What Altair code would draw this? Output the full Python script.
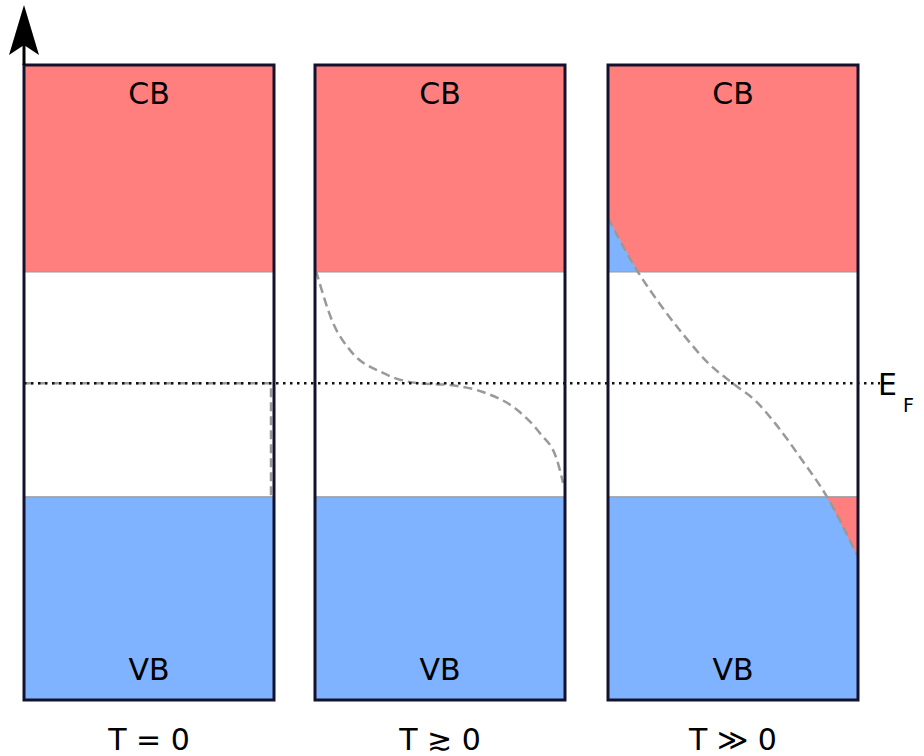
import altair as alt
import pandas as pd

# ---------------- data ----------------
panel_labels = ["T = 0", "T \u2273 0", "T \u226b 0"]
panel_offsets = [0.0, 1.164, 2.336]
panel_width = 1.0
E_top, E_bottom = 1.0, 0.0
E_c = 0.674   # conduction band edge
E_v = 0.320   # valence band edge
E_F = 0.499   # Fermi level

# occupancy curves (x = fraction across panel, E = energy)
step_u = [0.0, 0.988, 0.988]
step_E = [E_F, E_F, E_v]
curve2_u = [0.004, 0.072, 0.14, 0.272, 0.408, 0.54, 0.672, 0.808, 0.9, 0.968, 0.992]
curve2_E = [0.676, 0.594, 0.551, 0.515, 0.499, 0.496, 0.485, 0.457, 0.420, 0.378, 0.342]
curve3_u = [0.0, 0.12, 0.216, 0.296, 0.4, 0.508, 0.588, 0.668, 0.776, 0.876, 1.0]
curve3_E = [0.759, 0.674, 0.619, 0.578, 0.531, 0.496, 0.472, 0.436, 0.378, 0.320, 0.225]

RED = "#ff7f7f"
BLUE = "#80b3ff"
BORDER = "#12122e"
GREY = "#999999"

xs = alt.Scale(domain=[-0.096, 3.6], nice=False, zero=False)
ys = alt.Scale(domain=[-0.0882, 1.1024], nice=False, zero=False)

def X(f):
    return alt.X(f"{f}:Q", scale=xs, axis=None)

def Y(f):
    return alt.Y(f"{f}:Q", scale=ys, axis=None)

# ---------------- tables ----------------
bands = []
for lab, off in zip(panel_labels, panel_offsets):
    bands.append({"panel": lab, "band": "CB", "x": off, "x2": off + panel_width, "y": E_c, "y2": E_top,
                  "ly": 0.9386, "xc": off + panel_width / 2})
    bands.append({"panel": lab, "band": "VB", "x": off, "x2": off + panel_width, "y": E_bottom, "y2": E_v,
                  "ly": 0.0315, "xc": off + panel_width / 2})
bands = pd.DataFrame(bands)

frames = pd.DataFrame([{"panel": lab, "x": off, "x2": off + panel_width, "y": E_bottom, "y2": E_top,
                        "xc": off + panel_width / 2, "ly": -0.0787}
                       for lab, off in zip(panel_labels, panel_offsets)])

edges = pd.DataFrame([{"x": off, "x2": off + panel_width, "y": e}
                      for off in panel_offsets for e in (E_c, E_v)])

def curve_df(lab, off, us, es):
    return pd.DataFrame([{"panel": lab, "i": i, "x": off + u, "y": e}
                         for i, (u, e) in enumerate(zip(us, es))])

step = curve_df(panel_labels[0], panel_offsets[0], step_u, step_E)
smooth = pd.concat([
    curve_df(panel_labels[1], panel_offsets[1], curve2_u, curve2_E),
    curve_df(panel_labels[2], panel_offsets[2], curve3_u, curve3_E),
])

c3 = smooth[smooth.panel == panel_labels[2]]
holes = c3[c3.y >= E_c].assign(y2=E_c)          # empty states in CB -> blue wedge
elec = c3[c3.y <= E_v].assign(y2=E_v)           # electrons promoted -> red wedge

fermi = pd.DataFrame([{"x": 0.0, "x2": 3.424, "y": E_F}])
ef_label = pd.DataFrame([{"x": 3.416, "y": 0.480, "t": "E"}])
ef_sub = pd.DataFrame([{"x": 3.516, "y": 0.4535, "t": "F"}])

axis_arrow = pd.DataFrame([{"x": 0.0, "y": E_top, "y2": 1.06, "yh": 1.055}])

FONT = "DejaVu Sans"

# ---------------- layers ----------------
band_layer = alt.Chart(bands).mark_rect().encode(
    x=X("x"), x2="x2", y=Y("y"), y2="y2",
    color=alt.Color("band:N", scale=alt.Scale(domain=["CB", "VB"], range=[RED, BLUE]), legend=None),
)

blue_wedge = alt.Chart(holes).mark_area(color=BLUE, opacity=1).encode(
    x=X("x"), y=Y("y"), y2="y2")
red_wedge = alt.Chart(elec).mark_area(color=RED, opacity=1).encode(
    x=X("x"), y=Y("y2"), y2="y")

edge_layer = alt.Chart(edges).mark_rule(color=GREY, strokeWidth=1.2).encode(
    x=X("x"), x2="x2", y=Y("y"))

step_layer = alt.Chart(step).mark_line(color=GREY, strokeWidth=2.5, strokeDash=[9, 5]).encode(
    x=X("x"), y=Y("y"), detail="panel:N", order="i:Q")

curve_layer = alt.Chart(smooth).mark_line(color=GREY, strokeWidth=2.5, strokeDash=[9, 5],
                                          interpolate="monotone").encode(
    x=X("x"), y=Y("y"), detail="panel:N", order="i:Q")

fermi_layer = alt.Chart(fermi).mark_rule(color="#111111", strokeWidth=2.5, strokeDash=[2.5, 4.5]).encode(
    x=X("x"), x2="x2", y=Y("y"))

frame_layer = alt.Chart(frames).mark_rect(filled=False, stroke=BORDER, strokeWidth=3).encode(
    x=X("x"), x2="x2", y=Y("y"), y2="y2")

arrow_stem = alt.Chart(axis_arrow).mark_rule(color="black", strokeWidth=3).encode(
    x=X("x"), y=Y("y"), y2="y2")
arrow_head = alt.Chart(axis_arrow).mark_point(
    shape="M0,-1L0.6,1L0,0.6L-0.6,1Z", filled=True, color="black", size=2500, opacity=1
).encode(x=X("x"), y=Y("yh"))

band_text = alt.Chart(bands).mark_text(font=FONT, fontSize=30, baseline="alphabetic",
                                       align="center", color="black").encode(
    x=X("xc"), y=Y("ly"), text="band:N")

temp_text = alt.Chart(frames).mark_text(font=FONT, fontSize=30, baseline="alphabetic",
                                        align="center", color="black").encode(
    x=X("xc"), y=Y("ly"), text="panel:N")

ef_text = alt.Chart(ef_label).mark_text(font=FONT, fontSize=30, baseline="alphabetic",
                                        align="left", color="black").encode(
    x=X("x"), y=Y("y"), text="t:N")
ef_sub_text = alt.Chart(ef_sub).mark_text(font=FONT, fontSize=19, baseline="alphabetic",
                                          align="left", color="black").encode(
    x=X("x"), y=Y("y"), text="t:N")

chart = alt.layer(
    band_layer, blue_wedge, red_wedge, edge_layer, step_layer, curve_layer, fermi_layer,
    frame_layer, arrow_stem, arrow_head, band_text, temp_text, ef_text, ef_sub_text,
).properties(
    width=924, height=756, autosize=alt.AutoSizeParams(type="none"), padding=0,
).configure_view(stroke=None)

chart.save("out.html", embed_options={"renderer": "svg", "actions": False})
